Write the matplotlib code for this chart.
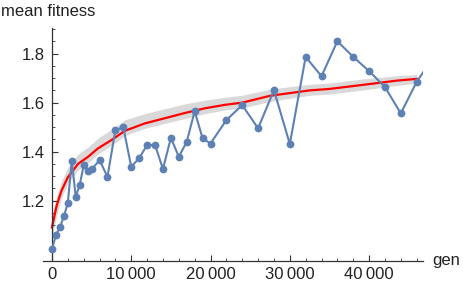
import matplotlib
matplotlib.use("Agg")
import matplotlib.pyplot as plt
from matplotlib.ticker import FixedLocator, MultipleLocator, FixedFormatter

plt.rcParams['font.family'] = ['Liberation Sans', 'DejaVu Sans']

# blue series: sampled mean fitness
gen = [0, 500, 1000, 1500, 2000, 2500, 3000, 3500, 4000, 4500, 5000, 6000, 7000,
       8000, 9000, 10000, 11000, 12000, 13000, 14000, 15000, 16000, 17000, 18000,
       19000, 20000, 22000, 24000, 26000, 28000, 30000, 32000, 34000, 36000,
       38000, 40000, 42000, 44000, 46000, 48000]
fitness = [1.00, 1.06, 1.09, 1.135, 1.19, 1.362, 1.216, 1.263, 1.345, 1.322, 1.327,
           1.365, 1.297, 1.488, 1.499, 1.338, 1.373, 1.427, 1.427, 1.329, 1.456,
           1.379, 1.44, 1.565, 1.454, 1.433, 1.529, 1.59, 1.495, 1.651, 1.431,
           1.787, 1.708, 1.851, 1.787, 1.729, 1.664, 1.556, 1.685, 1.78]

# red mean curve with grey band
mean_gen = [0, 600, 1200, 2000, 3300, 4600, 5800, 7500, 9200, 11700, 14200, 16800,
            19300, 21800, 24000, 27500, 32500, 35000, 39300, 43500, 46000]
mean_fit = [1.09, 1.18, 1.24, 1.295, 1.35, 1.38, 1.413, 1.447, 1.485, 1.515, 1.536,
            1.558, 1.577, 1.591, 1.60, 1.628, 1.65, 1.656, 1.673, 1.69, 1.697]
band_hi = [1.14, 1.22, 1.28, 1.335, 1.39, 1.42, 1.455, 1.49, 1.53, 1.555, 1.575,
           1.595, 1.61, 1.622, 1.63, 1.655, 1.675, 1.68, 1.697, 1.71, 1.715]
band_lo = [1.05, 1.14, 1.21, 1.27, 1.325, 1.355, 1.39, 1.425, 1.465, 1.495, 1.515,
           1.535, 1.555, 1.57, 1.578, 1.605, 1.63, 1.635, 1.652, 1.67, 1.68]

x_ticks = [0, 10000, 20000, 30000, 40000]
x_tick_labels = ['0', '10\u2009000', '20\u2009000', '30\u2009000', '40\u2009000']
y_ticks = [1.2, 1.4, 1.6, 1.8]
y_tick_labels = ['1.2', '1.4', '1.6', '1.8']

fig = plt.figure(figsize=(4.63, 2.86), dpi=100)
ax = fig.add_axes([43 / 463, 1 - 260.5 / 286, (423 - 43) / 463, (260.5 - 28) / 286])

ax.fill_between(mean_gen, band_lo, band_hi, color='#d9d9d9', lw=0, zorder=1)
ax.plot(mean_gen, mean_fit, color='#ff0000', lw=1.6, zorder=2)
ax.plot(gen, fitness, color='#5e81b5', lw=1.5, marker='o', ms=4.6, zorder=3)

ax.set_xlim(-1130, 46800)
ax.set_ylim(0.955, 1.905)

for s in ['top', 'right']:
    ax.spines[s].set_visible(False)
ax.spines['left'].set_position(('data', 0))
for s in ['left', 'bottom']:
    ax.spines[s].set_color('#333333')
    ax.spines[s].set_linewidth(0.9)

ax.xaxis.set_major_locator(FixedLocator(x_ticks))
ax.xaxis.set_major_formatter(FixedFormatter(x_tick_labels))
ax.xaxis.set_minor_locator(MultipleLocator(2000))
ax.yaxis.set_major_locator(FixedLocator(y_ticks))
ax.yaxis.set_major_formatter(FixedFormatter(y_tick_labels))
ax.yaxis.set_minor_locator(MultipleLocator(0.05))

ax.tick_params(which='major', direction='in', length=4, width=0.8, color='#333333',
               labelsize=12, labelcolor='#222222', pad=5)
ax.tick_params(which='minor', direction='in', length=2, width=0.6, color='#333333')

fig.text(1 / 463, 1 - 11 / 286, 'mean fitness', fontsize=12, color='#222222',
         ha='left', va='center')
fig.text(432 / 463, 1 - 261 / 286, 'gen', fontsize=12, color='#222222',
         ha='left', va='center')

fig.savefig('out.png', dpi=100)
